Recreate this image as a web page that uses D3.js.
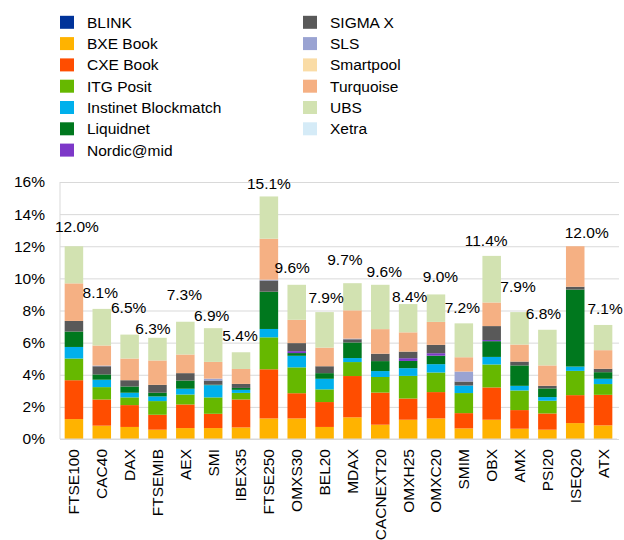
<!DOCTYPE html>
<head>
  <meta charset="utf-8">
  <style>
    body { margin: 0; background: #fff; }
    text { font-family: 'Liberation Sans', Arial, sans-serif; fill: #000; }
    .axis path, .axis line { stroke: none; }
    .grid line { stroke: #d9d9d9; stroke-width: 1; }
    .grid path { stroke: none; }
  </style>
</head>
<body>
  <script src="https://cdn.jsdelivr.net/npm/d3@7"></script>
  <script>
    const width = 624;
    const height = 540;
    const margin = {top: 182, right: 5, bottom: 101, left: 60};
    const innerWidth = width - margin.left - margin.right;
    const innerHeight = height - margin.top - margin.bottom;

    // index names along the x axis
    const indices = ["FTSE100", "CAC40", "DAX", "FTSEMIB", "AEX", "SMI", "IBEX35", "FTSE250", "OMXS30", "BEL20",
                     "MDAX", "CACNEXT20", "OMXH25", "OMXC20", "SMIM", "OBX", "AMX", "PSI20", "ISEQ20", "ATX"];
    // venues, stacked bottom to top
    const venues = ["BLINK", "BXE Book", "CXE Book", "ITG Posit", "Instinet Blockmatch", "Liquidnet", "Nordic@mid",
                    "SIGMA X", "SLS", "Smartpool", "Turquoise", "UBS", "Xetra"];
    const venueColors = ["#00339a", "#ffb300", "#ff4d00", "#66b800", "#00b0ec", "#00781e", "#7d38c8",
                         "#595959", "#9aa3d2", "#fadca6", "#f5b083", "#d2e2b1", "#d5ebf7"];

    // share of traded value, in %, one array per venue (same order as indices)
    const blink      = [0, 0, 0, 0, 0, 0, 0, 0, 0, 0, 0, 0, 0, 0, 0, 0, 0, 0, 0, 0];
    const bxeBook    = [1.24, 0.83, 0.75, 0.58, 0.68, 0.68, 0.72, 1.28, 1.28, 0.75, 1.35, 0.89, 1.20, 1.28, 0.66, 1.20, 0.64, 0.58, 0.99, 0.85];
    const cxeBook    = [2.42, 1.63, 1.36, 0.93, 1.47, 0.89, 1.74, 3.06, 1.57, 1.55, 2.57, 2.00, 1.32, 1.64, 0.95, 2.01, 1.16, 1.01, 1.74, 1.90];
    const itgPosit   = [1.35, 0.77, 0.48, 0.85, 0.62, 1.02, 0.41, 1.99, 1.61, 0.79, 0.87, 0.97, 1.41, 1.22, 1.25, 1.43, 1.22, 0.79, 1.51, 0.67];
    const instinet   = [0.72, 0.46, 0.29, 0.29, 0.36, 0.76, 0.19, 0.52, 0.72, 0.66, 0.25, 0.37, 0.48, 0.52, 0.47, 0.47, 0.29, 0.23, 0.27, 0.33];
    const liquidnet  = [0.96, 0.33, 0.39, 0.23, 0.51, 0.03, 0.12, 2.32, 0.17, 0.35, 0.97, 0.62, 0.45, 0.53, 0, 0.98, 1.27, 0.54, 4.79, 0.41];
    const nordicMid  = [0, 0, 0, 0, 0, 0, 0, 0, 0.12, 0, 0, 0, 0.17, 0.15, 0, 0.07, 0, 0, 0, 0];
    const sigmaX     = [0.66, 0.51, 0.39, 0.49, 0.46, 0.26, 0.25, 0.70, 0.50, 0.43, 0.20, 0.46, 0.41, 0.52, 0.25, 0.87, 0.24, 0.16, 0.18, 0.21];
    const sls        = [0, 0.04, 0, 0, 0, 0.12, 0, 0.05, 0, 0, 0.04, 0, 0, 0, 0.62, 0, 0, 0, 0, 0];
    const smartpool  = [0, 0, 0, 0, 0, 0, 0, 0, 0, 0, 0, 0, 0, 0, 0, 0, 0, 0, 0, 0];
    const turquoise  = [2.34, 1.25, 1.35, 1.52, 1.16, 1.04, 0.93, 2.55, 1.45, 1.16, 1.76, 1.53, 1.20, 1.43, 0.89, 1.47, 1.06, 1.27, 2.52, 1.16];
    const ubs        = [2.31, 2.28, 1.49, 1.41, 2.04, 2.10, 1.04, 2.63, 2.18, 2.21, 1.69, 2.76, 1.76, 1.71, 2.11, 2.90, 2.02, 2.22, 0, 1.57];
    const xetra      = [0, 0, 0, 0, 0, 0, 0, 0, 0, 0, 0, 0, 0, 0, 0, 0, 0, 0, 0, 0];
    const series = [blink, bxeBook, cxeBook, itgPosit, instinet, liquidnet, nordicMid, sigmaX, sls, smartpool, turquoise, ubs, xetra];

    const yTicks = [0, 2, 4, 6, 8, 10, 12, 14, 16];

    // hand placement of the total labels, in px (dx, dy) from the default spot
    const labelShift = [[3, -4], [-1.5, 0], [-1, -11], [-4.5, 6.5], [-1, -11], [-1.5, 3.5], [-1, -1], [0, 3],
                        [-4.5, -1.5], [1.5, 1.5], [-7.5, -8], [4, 3], [1.5, 8.5], [4.5, -1.5], [-1.5, 0],
                        [-5.5, 1], [-1.5, -10], [-4, -0.5], [11.5, 2], [2, 0]];

    // table for d3.stack
    const table = indices.map((name, i) => {
      const row = {index: name};
      venues.forEach((v, j) => { row[v] = series[j][i]; });
      return row;
    });
    const totals = indices.map((name, i) => d3.sum(series, s => s[i]));

    const svg = d3.select("body").append("svg")
      .attr("width", width)
      .attr("height", height);

    //-----------------------------LEGEND-----------------------------//
    const legend = svg.append("g").attr("id", "legend");
    venues.forEach((v, j) => {
      const col = j < 7 ? 0 : 1;
      const row = j < 7 ? j : j - 7;
      const g = legend.append("g")
        .attr("transform", "translate(" + (60 + col * 243) + "," + (22.3 + row * 21.3) + ")");
      g.append("rect")
        .attr("x", 0).attr("y", -6.5)
        .attr("width", 14).attr("height", 13)
        .attr("fill", venueColors[j]);
      g.append("text")
        .attr("x", 27).attr("dy", "0.35em")
        .style("font-size", "15.5px")
        .text(v);
    });

    //-----------------------------CHART-----------------------------//
    const chart = svg.append("g")
      .attr("transform", "translate(" + margin.left + "," + margin.top + ")");

    const xScale = d3.scaleBand()
      .domain(indices)
      .range([0, innerWidth - 2])
      .paddingInner(0.335)
      .paddingOuter(0.1675);

    const yScale = d3.scaleLinear()
      .domain([0, 16])
      .range([innerHeight, 0]);

    // gridlines
    chart.append("g")
      .attr("class", "grid")
      .call(d3.axisLeft(yScale).tickValues(yTicks).tickSize(-innerWidth).tickFormat(""));

    // left and bottom axis lines
    chart.append("line")
      .attr("x1", 0).attr("x2", 0)
      .attr("y1", 0).attr("y2", innerHeight)
      .attr("stroke", "#d9d9d9");

    const yaxis = chart.append("g")
      .attr("class", "axis")
      .call(d3.axisLeft(yScale).tickValues(yTicks).tickSize(0).tickPadding(15).tickFormat(d => d + "%"));
    yaxis.selectAll("text").style("font-size", "15.5px");

    const stack = d3.stack().keys(venues);
    const layers = stack(table);

    chart.append("g").attr("id", "bars")
      .selectAll("g").data(layers).enter().append("g")
      .attr("fill", (d, j) => venueColors[j])
      .selectAll("rect").data(d => d).enter().append("rect")
      .attr("x", d => xScale(d.data.index))
      .attr("y", d => yScale(d[1]))
      .attr("width", xScale.bandwidth())
      .attr("height", d => yScale(d[0]) - yScale(d[1]));

    const xaxis = chart.append("g")
      .attr("class", "axis")
      .attr("transform", "translate(0," + innerHeight + ")")
      .call(d3.axisBottom(xScale).tickSize(0).tickPadding(0));
    xaxis.selectAll("text")
      .style("font-size", "15.5px")
      .attr("text-anchor", "end")
      .attr("transform", "rotate(-90)")
      .attr("x", -10)
      .attr("y", 0)
      .attr("dy", "0.35em");

    chart.append("line")
      .attr("x1", 0).attr("x2", innerWidth - 2)
      .attr("y1", innerHeight).attr("y2", innerHeight)
      .attr("stroke", "#d9d9d9");

    // total labels
    chart.append("g").attr("id", "totals")
      .selectAll("text").data(indices).enter().append("text")
      .attr("x", (d, i) => xScale(d) + xScale.bandwidth() / 2 + labelShift[i][0])
      .attr("y", (d, i) => yScale(totals[i]) - 16 + labelShift[i][1])
      .attr("dy", "0.35em")
      .attr("text-anchor", "middle")
      .style("font-size", "15.5px")
      .text((d, i) => totals[i].toFixed(1) + "%");
  </script>
</body>
